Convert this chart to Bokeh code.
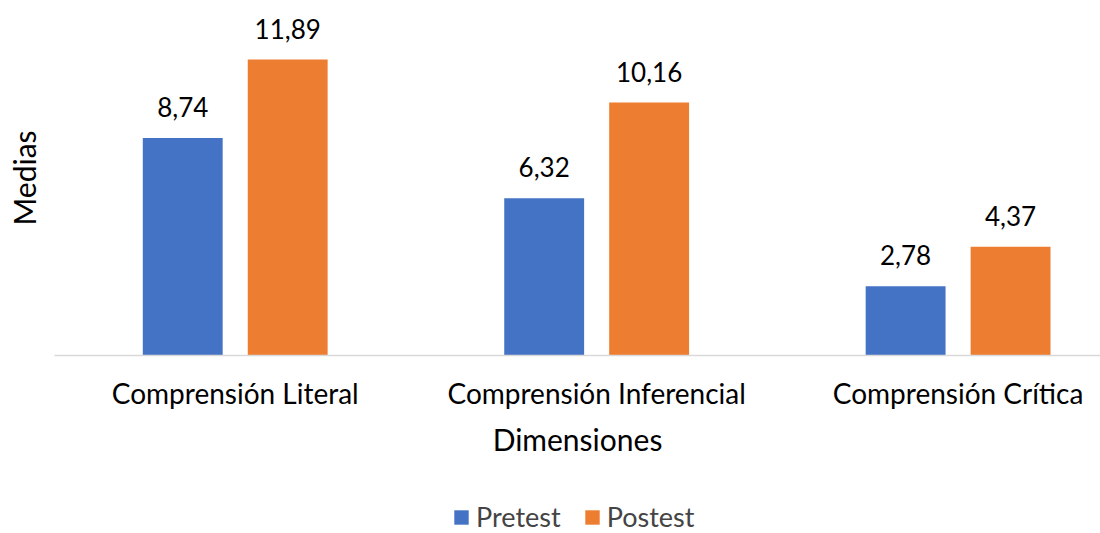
from bokeh.plotting import figure
from bokeh.layouts import column
from bokeh.models import ColumnDataSource, Range1d, FixedTicker, Legend, LegendItem
from bokeh.core.properties import value
from bokeh.embed import file_html
from bokeh.resources import INLINE

categories = ["Comprensión Literal", "Comprensión Inferencial", "Comprensión Crítica"]
pretest = [8.74, 6.32, 2.78]
postest = [11.89, 10.16, 4.37]
series_names = ["Pretest", "Postest"]
colors = ["#4472C4", "#ED7D31"]

FONT = "Lato"
idx = [i + 0.5 for i in range(len(categories))]

def fmt(v):
    return f"{v:.2f}".replace(".", ",")

p = figure(frame_width=1046, frame_height=355, output_backend="svg", toolbar_location=None,
           x_range=Range1d(0, 2.894), y_range=Range1d(0, 14.26),
           min_border_left=54, min_border_right=0, min_border_top=0, min_border_bottom=0)

# legend strip below the chart (bars drawn outside its visible range)
p2 = figure(frame_width=1046, frame_height=80, output_backend="svg", toolbar_location=None,
            x_range=p.x_range, y_range=Range1d(100, 101),
            min_border_left=54, min_border_right=0, min_border_top=0, min_border_bottom=0)

off = 0.1452
bw = 0.221
renderers = []
for k, (vals, name, col) in enumerate(zip([pretest, postest], series_names, colors)):
    xs = [c + (off if k else -off) for c in idx]
    src = ColumnDataSource(dict(x=xs, top=vals, lab=[fmt(v) for v in vals]))
    p.vbar(x="x", top="top", width=bw, bottom=0, source=src, color=col, line_color=None)
    r2 = p2.vbar(x="x", top="top", width=bw, bottom=0, source=src, color=col, line_color=None)
    renderers.append(r2)
    p.text(x="x", y="top", text="lab", source=src, text_align="center",
           text_baseline="middle", y_offset=-31, text_font=value(FONT),
           text_font_size="26px", text_color="#000000")

p.xaxis.ticker = FixedTicker(ticks=idx)
p.xaxis.major_label_overrides = {t: c for t, c in zip(idx, categories)}
p.xaxis.major_label_text_font = FONT
p.xaxis.major_label_text_font_size = "28px"
p.xaxis.major_label_text_color = "#000000"
p.xaxis.major_label_standoff = 14
p.xaxis.major_tick_line_color = None
p.xaxis.minor_tick_line_color = None
p.xaxis.axis_line_color = "#D9D9D9"
p.xaxis.axis_line_width = 1.5
p.xaxis.axis_label = "Dimensiones"
p.xaxis.axis_label_text_font = FONT
p.xaxis.axis_label_text_font_size = "30px"
p.xaxis.axis_label_text_font_style = "normal"
p.xaxis.axis_label_text_color = "#000000"
p.xaxis.axis_label_standoff = 8

p.yaxis.ticker = FixedTicker(ticks=[])
p.yaxis.major_label_text_font_size = "0px"
p.yaxis.major_tick_line_color = None
p.yaxis.minor_tick_line_color = None
p.yaxis.axis_line_color = None
p.yaxis.axis_label = "Medias"
p.yaxis.axis_label_text_font = FONT
p.yaxis.axis_label_text_font_size = "30px"
p.yaxis.axis_label_text_font_style = "normal"
p.yaxis.axis_label_text_color = "#000000"
p.yaxis.axis_label_standoff = 13

for f in (p, p2):
    f.xgrid.grid_line_color = None
    f.ygrid.grid_line_color = None
    f.outline_line_color = None
p2.axis.visible = False

legend = Legend(items=[LegendItem(label=n, renderers=[r]) for n, r in zip(series_names, renderers)],
                orientation="horizontal", location=(398, 6),
                label_text_font=FONT, label_text_font_size="27px",
                glyph_width=18, glyph_height=18, spacing=22, label_standoff=6,
                background_fill_alpha=0, border_line_color=None, margin=0, padding=0)
p2.add_layout(legend)

open("out.html", "w").write(file_html(column(p, p2, spacing=0), INLINE))
